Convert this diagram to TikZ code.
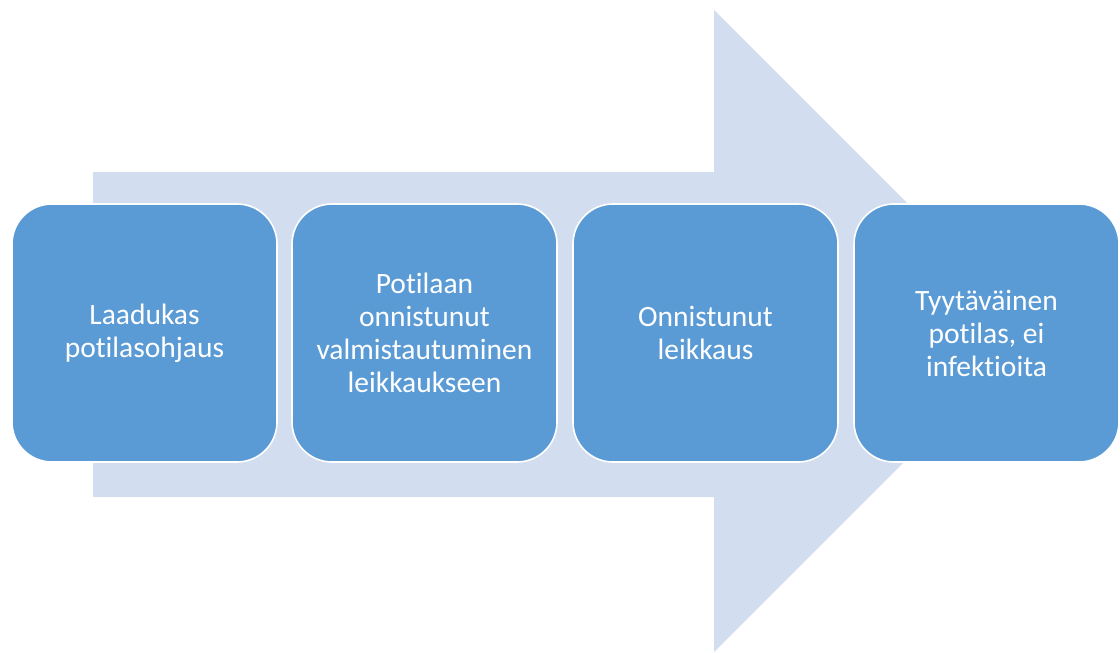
\documentclass[tikz,border=0pt]{standalone}
\usepackage{fontspec}
\setmainfont[Ligatures=NoCommon]{Carlito}
\usepackage{xcolor}
\usepackage{tikz}
\usetikzlibrary{positioning}
\definecolor{cblue}{RGB}{91, 155, 213}
\definecolor{clightblue}{RGB}{210, 222, 239}

\begin{document}
\begin{tikzpicture}[x=1pt, y=-1pt,
    stepbox/.style={draw=white, line width=1.6pt, fill=cblue, rounded corners=40pt,
      minimum width=265pt, minimum height=258pt, align=center, text=white,
      font=\fontsize{29.5pt}{33pt}\selectfont, inner sep=0pt}]
  \useasboundingbox (0,0) rectangle (1120,653);
  % big background arrow
  \fill[clightblue] (93,172) -- (714,172) -- (714,10) -- (1035,331)
    -- (714,652) -- (714,497) -- (93,497) -- cycle;
  % steps
  \node[stepbox] (laatu) at (144.5,333) {Laadukas\\potilasohjaus};
  \node[stepbox] (valmis) at (424.5,333) {Potilaan\\onnistunut\\valmistautuminen\\leikkaukseen};
  \node[stepbox] (leikkaus) at (705.5,333) {Onnistunut\\leikkaus};
  \node[stepbox] (potilas) at (986.5,333) {Tyytäväinen\\potilas, ei\\infektioita};
\end{tikzpicture}
\end{document}
